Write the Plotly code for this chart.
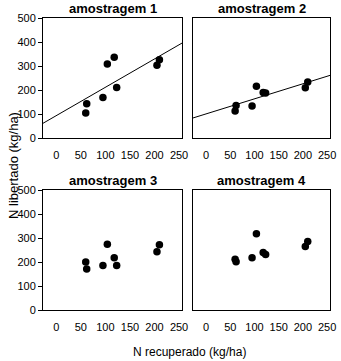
import numpy as np
import plotly.graph_objects as go

# N recuperado (kg/ha) - same for all samplings
n_recuperado = [60, 62, 95, 104, 118, 123, 205, 210]

# N libertado (kg/ha) per sampling
amostragem_1 = [104, 143, 169, 308, 336, 210, 303, 326]
amostragem_2 = [113, 135, 133, 216, 190, 187, 209, 233]
amostragem_3 = [200, 171, 185, 274, 218, 185, 243, 272]
amostragem_4 = [211, 201, 218, 318, 240, 231, 265, 285]

titles = ["amostragem 1", "amostragem 2", "amostragem 3", "amostragem 4"]
with_fit = [True, True, False, False]
x_ticks = [0, 50, 100, 150, 200, 250]
y_ticks = [0, 100, 200, 300, 400, 500]

FONT = "Liberation Sans Narrow, Liberation Sans, Arial, sans-serif"

W, H = 341, 361
xdoms = [[43 / W, 182 / W], [193 / W, 330 / W]]
ydoms = [[1 - 138 / H, 1 - 18 / H], [1 - 310 / H, 1 - 190 / H]]
XR = [-27, 256]

fig = go.Figure()
series = [amostragem_1, amostragem_2, amostragem_3, amostragem_4]
layout_axes = {}
for i, (ys, title, fit) in enumerate(zip(series, titles, with_fit)):
    row, col = divmod(i, 2)
    xa = "x" if i == 0 else f"x{i+1}"
    ya = "y" if i == 0 else f"y{i+1}"
    fig.add_trace(go.Scatter(
        x=n_recuperado, y=ys, mode="markers", xaxis=xa, yaxis=ya,
        marker=dict(color="black", size=7.5), showlegend=False, hoverinfo="skip"))
    if fit:
        b, a = np.polyfit(n_recuperado, ys, 1)
        xl = np.array(XR, dtype=float)
        fig.add_trace(go.Scatter(
            x=xl, y=a + b * xl, mode="lines", xaxis=xa, yaxis=ya,
            line=dict(color="black", width=1), showlegend=False, hoverinfo="skip"))
    xkey = "xaxis" if i == 0 else f"xaxis{i+1}"
    ykey = "yaxis" if i == 0 else f"yaxis{i+1}"
    layout_axes[xkey] = dict(
        domain=xdoms[col], anchor=ya, range=XR, tickvals=x_ticks,
        showline=True, linecolor="black", linewidth=1, mirror=True,
        showgrid=False, zeroline=False, ticks="outside", ticklen=7,
        tickcolor="rgba(0,0,0,0)", tickfont=dict(family=FONT, size=11, color="black"))
    layout_axes[ykey] = dict(
        domain=ydoms[row], anchor=xa, range=[0, 500], tickvals=y_ticks,
        showticklabels=(col == 0),
        showline=True, linecolor="black", linewidth=1, mirror=True,
        showgrid=False, zeroline=False, ticks="outside" if col == 0 else "",
        ticklen=4, tickcolor="black", tickfont=dict(family=FONT, size=11, color="black"))
    fig.add_annotation(
        x=(xdoms[col][0] + xdoms[col][1]) / 2, y=ydoms[row][1], xref="paper", yref="paper",
        xanchor="center", text=f"<b>{title}</b>", showarrow=False, yanchor="bottom",
        font=dict(family=FONT, size=13, color="black"))

fig.update_layout(**layout_axes)

fig.add_annotation(x=13 / W, y=1 - 166 / H, xref="paper", yref="paper",
                   xanchor="center", yanchor="middle",
                   text="N libertado (kg/ha)", textangle=-90, showarrow=False,
                   font=dict(family=FONT, size=13, color="black"))
fig.add_annotation(x=190 / W, y=1 - 352 / H, xref="paper", yref="paper",
                   xanchor="center", yanchor="middle",
                   text="N recuperado (kg/ha)", showarrow=False,
                   font=dict(family=FONT, size=12, color="black"))

fig.update_layout(width=W, height=H, margin=dict(l=0, r=0, t=0, b=0, autoexpand=False),
                  plot_bgcolor="white", paper_bgcolor="white")
fig.write_html("out.html", config={"displayModeBar": False, "staticPlot": True})
with open("out.html", encoding="utf-8") as f:
    html = f.read()
html = html.replace("<head>", "<head><style>html,body{margin:0;padding:0;overflow:hidden;}</style>", 1)
with open("out.html", "w", encoding="utf-8") as f:
    f.write(html)
